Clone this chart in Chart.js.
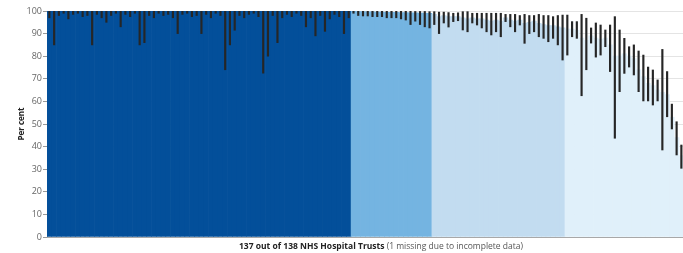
<!DOCTYPE html>
<html>
<head>
<meta charset="utf-8">
<script src="https://cdn.jsdelivr.net/npm/chart.js@4"></script>
<style>
    body { margin: 0; background: #fff; }
    /* the reference is cropped on its right edge, so the chart runs a little past the window */
    #frame { width: 683px; height: 253px; overflow: hidden; }
    #wrap { width: 698px; height: 253px; }
</style>
</head>
<body>
<div id="frame"><div id="wrap"><canvas id="trustChart"></canvas></div></div>
<script>
const totalTrusts = 137;

// Band 1 (dark): trusts at 100%, lower confidence limits
const darkValue = 100;
const darkLow = [97, 85, 98, 99, 96.5, 98.5, 99, 97.5, 98, 85, 98.5, 97, 95, 98, 99, 93, 98.5, 97.5, 99, 85,
    86, 98, 97, 99, 98, 98.5, 97, 90, 98.5, 99, 97.5, 98, 90, 98.5, 97, 99, 98, 74, 85, 91.5,
    98, 97, 98.5, 99, 97.5, 72.5, 80, 98, 86, 97, 98.5, 97.5, 99, 98, 93, 97, 89, 98, 91, 96.5,
    98.5, 97.5, 90, 97];

// Band 2 (medium)
const mediumValue = [99.8, 99.7, 99.7, 99.6, 99.6, 99.5, 99.5, 99.4, 99.4, 99.4, 99.3, 99.3, 99.2, 99.2, 99.1, 99.1, 99];
const mediumLow = [99, 98, 97.8, 97.8, 97.5, 97.5, 97.5, 97, 97, 97, 96.5, 96, 94, 95.5, 94, 93, 92.5];
const mediumHigh = [100, 100, 100, 100, 100, 100, 100, 100, 100, 100, 100, 100, 100, 99.8, 99.8, 99.8, 99.7];

// Band 3 (light)
const lightValue = [98.5, 97.5, 98, 97.5, 97.5, 97.5, 97, 96.5, 97, 96.5, 96.5, 96, 95.5, 96, 95.5, 97, 96, 95.5,
    96, 94.5, 95, 95.5, 94.5, 94, 93.5, 93.5, 93, 92.5];
const lightLow = [94, 90, 94.7, 92.9, 95.3, 95.7, 91.6, 90.8, 94.7, 93.8, 92.5, 90.8, 89.4, 90.8, 88.6, 95.3, 93, 90.8,
    93.8, 85.7, 90, 90.8, 88.6, 87.9, 86.4, 87.9, 85, 78.3];
const lightHigh = [99.7, 99.5, 99.5, 99.3, 99, 99.2, 99.7, 99.7, 99, 99, 99, 99, 99, 99, 99, 98.5, 98.5, 98.5,
    98, 98.5, 98, 98, 98.5, 98, 98, 97.5, 98, 98.2];

// Band 4 (lightest) - the last few trusts fall outside the cropped picture
const palestValue = [92, 92, 91.5, 88, 87, 89, 88, 87.5, 88, 85, 80, 80, 81, 80, 79, 74, 71, 68, 67, 65, 64, 63, 53, 44, 36];
const palestLow = [80.5, 88.6, 87.9, 62.5, 74, 85.8, 79.6, 80.5, 84.2, 73.2, 43.7, 64.3, 72.4, 75.2, 71.7, 64.3, 60.2,
    60.2, 58.4, 60.2, 38.5, 53.2, 47.8, 36.3, 30.4];
const palestHigh = [98.2, 95.3, 95.3, 98.5, 96.8, 92.5, 94.7, 93.8, 91.6, 93.8, 97.5, 91.6, 87.9, 84.2, 85, 82.3, 80.5,
    75.2, 73.9, 69.5, 83, 73.2, 58.8, 51, 40.7];

const bandColours = ['#034f9a', '#74b4e1', '#c2dcf0', '#e0f0fa'];
const yTicks = [0, 10, 20, 30, 40, 50, 60, 70, 80, 90, 100];

// Build the flat series
const values = [...darkLow.map(() => darkValue), ...mediumValue, ...lightValue, ...palestValue];
const lows = [...darkLow, ...mediumLow, ...lightLow, ...palestLow];
const highs = [...darkLow.map(() => 100), ...mediumHigh, ...lightHigh, ...palestHigh];
const colours = [
    ...darkLow.map(() => bandColours[0]),
    ...mediumValue.map(() => bandColours[1]),
    ...lightValue.map(() => bandColours[2]),
    ...palestValue.map(() => bandColours[3])
];
const labels = Array.from({ length: totalTrusts }, (v, i) => 'Trust ' + (i + 1));

// x axis title with a bold and a plain part
const xTitlePlugin = {
    id: 'xTitle',
    afterDraw(chart) {
        const ctx = chart.ctx;
        const boldText = '137 out of 138 NHS Hospital Trusts';
        const plainText = ' (1 missing due to incomplete data)';
        ctx.save();
        ctx.textBaseline = 'alphabetic';
        ctx.font = 'bold 8.5px "Open Sans"';
        const wBold = ctx.measureText(boldText).width;
        ctx.font = '8.5px "Open Sans"';
        const wPlain = ctx.measureText(plainText).width;
        const start = 381 - (wBold + wPlain) / 2;
        ctx.font = 'bold 8.5px "Open Sans"';
        ctx.fillStyle = '#222';
        ctx.fillText(boldText, start, 249);
        ctx.font = '8.5px "Open Sans"';
        ctx.fillStyle = '#555';
        ctx.fillText(plainText, start + wBold, 249);
        ctx.restore();
    }
};

new Chart(document.getElementById('trustChart'), {
    type: 'bar',
    data: {
        labels: labels,
        datasets: [{
            label: 'Confidence interval',
            data: lows.map((l, i) => [l, highs[i]]),
            backgroundColor: '#262626',
            barThickness: 1.5,
            grouped: false,
            order: 0
        }, {
            label: 'Per cent',
            data: values,
            backgroundColor: colours,
            categoryPercentage: 1,
            barPercentage: 1,
            grouped: false,
            order: 1
        }]
    },
    options: {
        responsive: true,
        maintainAspectRatio: false,
        animation: false,
        layout: { padding: { top: 11, right: 0, left: 0, bottom: 0 } },
        plugins: {
            legend: { display: false },
            tooltip: { enabled: false }
        },
        scales: {
            x: {
                grid: { display: false },
                ticks: { display: false },
                border: { color: '#a8a8a8' },
                afterFit(scale) { scale.height = 16; }
            },
            y: {
                min: 0,
                max: 100,
                afterBuildTicks(scale) { scale.ticks = yTicks.map(v => ({ value: v })); },
                grid: { color: '#e4e4e4', tickColor: '#999', tickLength: 4 },
                border: { color: '#a8a8a8' },
                ticks: {
                    color: '#666',
                    padding: 1,
                    font: { family: 'Open Sans', size: 9 }
                },
                title: {
                    display: true,
                    text: 'Per cent',
                    color: '#222',
                    font: { family: 'Open Sans', size: 8, weight: 'bold' },
                    padding: { top: 17, bottom: 0 }
                },
                afterFit(scale) { scale.width = 47; }
            }
        }
    },
    plugins: [xTitlePlugin]
});
</script>
</body>
</html>
